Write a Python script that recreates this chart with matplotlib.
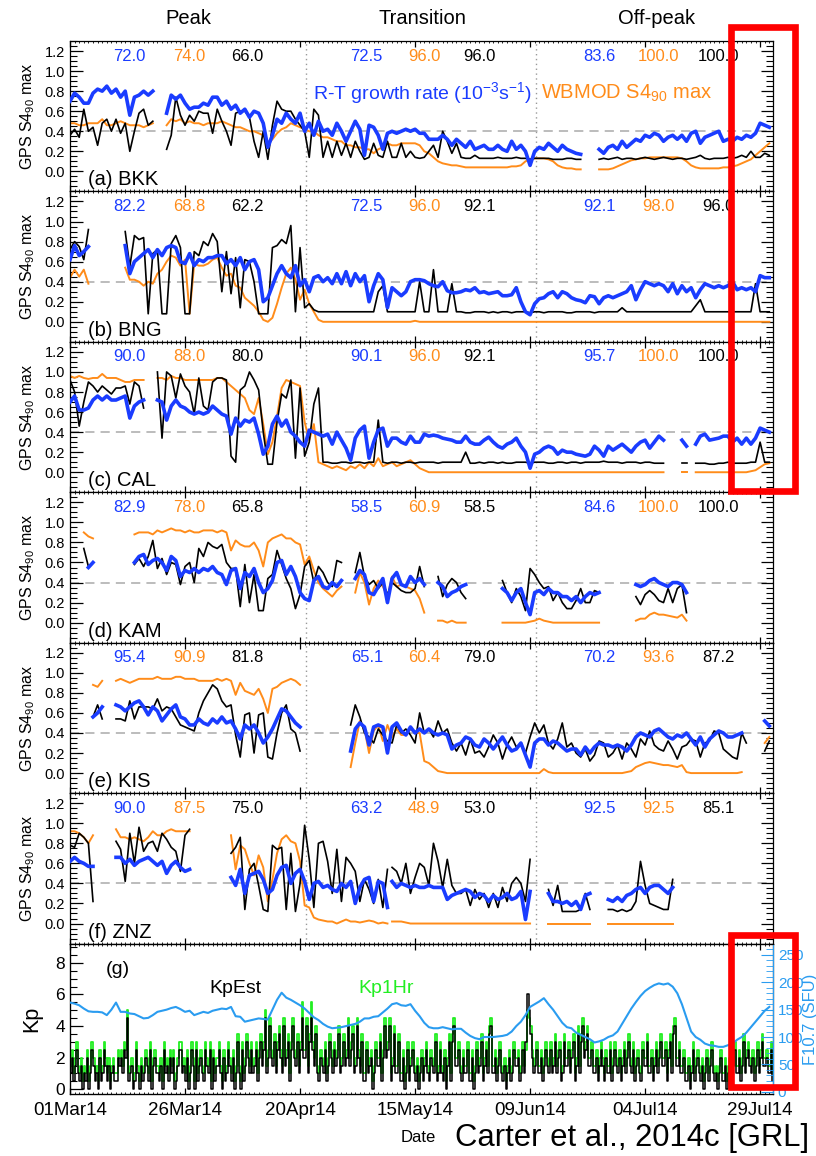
import numpy as np
import matplotlib
matplotlib.use("Agg")
import matplotlib.pyplot as plt
from matplotlib.patches import Rectangle
from matplotlib.ticker import MultipleLocator, FixedLocator

plt.rcParams['font.family'] = ['Liberation Sans', 'DejaVu Sans']
plt.rcParams['mathtext.fontset'] = 'custom'
plt.rcParams['mathtext.rm'] = 'Liberation Sans'
plt.rcParams['mathtext.it'] = 'Liberation Sans'

BLUE = '#1a3cff'
ORANGE = '#ff8c1a'
F107C = '#2a9cf0'
GREEN = '#22ee22'

# ---- data: days since 01Mar14, each series is a list of (start_day, daily values) ----
sections = ['Peak', 'Transition', 'Off-peak']
date_ticks = [0, 25, 50, 75, 100, 125, 150]
date_labels = ['01Mar14', '26Mar14', '20Apr14', '15May14', '09Jun14', '04Jul14', '29Jul14']
station_names = ['(a) BKK', '(b) BNG', '(c) CAL', '(d) KAM', '(e) KIS', '(f) ZNZ']

stats = [
    [72.0, 74.0, 66.0, 72.5, 96.0, 96.0, 83.6, 100.0, 100.0],
    [82.2, 68.8, 62.2, 72.5, 96.0, 92.1, 92.1, 98.0, 96.0],
    [90.0, 88.0, 80.0, 90.1, 96.0, 92.1, 95.7, 100.0, 100.0],
    [82.9, 78.0, 65.8, 58.5, 60.9, 58.5, 84.6, 100.0, 100.0],
    [95.4, 90.9, 81.8, 65.1, 60.4, 79.0, 70.2, 93.6, 87.2],
    [90.0, 87.5, 75.0, 63.2, 48.9, 53.0, 92.5, 92.5, 85.1],
]
stat_days = [13, 26, 38.5, 64.5, 77, 89, 115, 128, 141]

# (a) BKK
bkk_blue = [
    (0, [0.70,0.78,0.74,0.68,0.68,0.78,0.82,0.80,0.85,0.78,0.82,0.74,0.80,0.56,0.74,0.76,0.80,0.76,0.80]),
    (21, [0.58,0.76,0.72,0.76,0.68,0.62,0.64,0.64,0.68,0.66,
          0.74,0.74,0.66,0.70,0.62,0.66,0.58,0.62,0.54,0.60,
          0.58,0.48,0.24,0.36,0.52,0.48,0.58,0.52,0.48,0.58,
          0.40,0.48,0.36,0.50,0.40,0.42,0.36,0.48,0.40,0.30,
          0.40,0.50,0.42,0.16,0.46,0.44,0.36,0.22,0.38,0.40,
          0.38,0.40,0.42,0.40,0.42,0.38,0.38,0.32,0.32,0.32,
          0.36,0.32,0.26,0.32,0.28,0.24,0.30,0.22,0.24,0.26,
          0.22,0.22,0.26,0.22,0.20,0.30,0.22,0.26,0.20,0.06,
          0.20,0.24,0.22,0.28,0.24,0.20,0.26,0.22,0.20,0.18,0.17]),
    (115, [0.22,0.18,0.24,0.26,0.22,0.30,0.24,0.28,0.32,0.30,
           0.36,0.34,0.38,0.36,0.30,0.34,0.36,0.32,0.36,0.30,
           0.38,0.40,0.28,0.34,0.36,0.38,0.40,0.30,0.32,0.30,
           0.34,0.32,0.36,0.34,0.38,0.48,0.46,0.44]),
]
bkk_black = [
    (0, [0.36,0.42,0.34,0.62,0.40,0.44,0.26,0.48,0.52,0.40,0.52,0.38,0.48,0.20,0.40,0.58,0.62,0.46,0.50]),
    (21, [0.22,0.36,0.74,0.56,0.46,0.56,0.50,0.60,0.58,0.58,
          0.38,0.62,0.50,0.40,0.26,0.58,0.60,0.60,0.54,0.30,
          0.14,0.40,0.12,0.46,0.70,0.62,0.60,0.60,0.52,0.46,
          0.40,0.14,0.62,0.56,0.14,0.30,0.14,0.30,0.16,0.28,
          0.14,0.30,0.20,0.12,0.14,0.28,0.16,0.14,0.30,0.14,
          0.14,0.28,0.14,0.20,0.14,0.13,0.14,0.20,0.26,0.14,
          0.40,0.30,0.18,0.28,0.14,0.13,0.13,0.16,0.13,0.13,
          0.13,0.13,0.14,0.13,0.13,0.13,0.14,0.13,0.13,0.12,
          0.13,0.13,0.13,0.13,0.12,0.12,0.12,0.13,0.13,0.12,0.12]),
    (115, [0.12,0.13,0.12,0.13,0.14,0.12,0.13,0.13,0.12,0.13,
           0.14,0.13,0.12,0.13,0.14,0.13,0.12,0.13,0.13,0.12,
           0.13,0.14,0.16,0.13,0.12,0.13,0.13,0.13,0.14,0.13,
           0.14,0.16,0.14,0.20,0.14,0.14,0.18,0.16]),
]
bkk_orange = [
    (0, [0.48,0.48,0.46,0.46,0.48,0.48,0.48,0.52,0.46,0.46,0.48,0.50,0.48,0.46,0.46,0.46,0.44,0.46,0.48]),
    (21, [0.46,0.52,0.50,0.52,0.48,0.50,0.48,0.48,0.46,0.48,
          0.48,0.48,0.50,0.48,0.46,0.44,0.44,0.42,0.40,0.40,
          0.38,0.36,0.28,0.32,0.38,0.42,0.44,0.48,0.46,0.44,
          0.42,0.40,0.40,0.36,0.34,0.34,0.32,0.30,0.30,0.26,
          0.26,0.24,0.24,0.22,0.22,0.18,0.22,0.24,0.28,0.26,
          0.26,0.28,0.28,0.28,0.28,0.26,0.20,0.18,0.14,0.10,
          0.08,0.07,0.06,0.06,0.05,0.04,0.04,0.04,0.04,0.04,
          0.04,0.04,0.04,0.04,0.04,0.05,0.05,0.06,0.10,0.12,
          0.13,0.13,0.13,0.12,0.10,0.06,0.04,0.03,0.03,0.02,0.02]),
    (115, [0.02,0.02,0.02,0.03,0.05,0.07,0.09,0.11,0.12,0.13,
           0.13,0.14,0.14,0.14,0.14,0.14,0.14,0.14,0.13,0.10,
           0.06,0.04,0.03,0.03,0.03,0.03,0.03,0.04,0.04,0.05,
           0.06,0.08,0.10,0.12,0.16,0.20,0.24,0.28]),
]

# (b) BNG
bng_blue = [
    (0, [0.62,0.76,0.66,0.70,0.75]),
    (12, [0.76,0.48,0.60,0.64,0.68,0.72,0.64,0.72,0.66,0.74,
          0.76,0.74,0.60,0.58,0.68,0.56,0.62,0.60,0.64,0.64,
          0.66,0.66,0.58,0.62,0.56,0.64,0.52,0.60,0.62,0.52,
          0.20,0.24,0.36,0.48,0.56,0.48,0.44,0.56,0.36,0.42,
          0.30,0.44,0.46,0.40,0.44,0.38,0.48,0.38,0.50,0.36,
          0.48,0.40,0.46,0.20,0.36,0.48,0.42,0.14,0.34,0.30,
          0.26,0.30,0.40,0.42,0.42,0.41,0.38,0.36,0.35,0.40,
          0.31,0.29,0.29,0.30,0.32,0.31,0.34,0.29,0.30,0.28,
          0.29,0.30,0.26,0.26,0.27,0.34,0.20,0.10,0.07,0.18,
          0.23,0.24,0.28,0.30,0.24,0.30,0.28,0.24,0.22,0.21,
          0.19,0.26,0.25,0.18,0.24,0.26,0.24,0.26,0.28,0.30,
          0.36,0.22,0.32,0.40,0.38,0.36,0.38,0.36,0.30,0.38,
          0.28,0.36,0.30,0.34,0.24,0.32,0.38,0.36,0.34,0.36,
          0.34,0.36,0.40,0.32,0.34,0.32,0.34,0.30,0.46,0.44,0.44]),
]
bng_black = [
    (0, [0.72,0.80,0.75,0.62,0.92]),
    (12, [0.90,0.55,0.86,0.82,0.84,0.08,0.68,0.72,0.08,0.08,
          0.78,0.86,0.74,0.08,0.08,0.70,0.66,0.80,0.76,0.88,
          0.80,0.30,0.70,0.28,0.64,0.14,0.62,0.60,0.40,0.08,
          0.08,0.08,0.74,0.76,0.82,0.78,0.96,0.10,0.74,0.14,
          0.18,0.12,0.10,0.10,0.10,0.10,0.10,0.10,0.10,0.10,
          0.10,0.10,0.10,0.10,0.10,0.30,0.36,0.10,0.10,0.10,
          0.10,0.10,0.10,0.10,0.40,0.10,0.10,0.52,0.10,0.10,
          0.10,0.38,0.10,0.10,0.09,0.09,0.10,0.10,0.10,0.09,
          0.10,0.09,0.10,0.10,0.09,0.10,0.10,0.10,0.09,0.10,
          0.10,0.09,0.10,0.10,0.10,0.10,0.09,0.09,0.10,0.10,
          0.10,0.10,0.09,0.10,0.10,0.10,0.10,0.10,0.14,0.10,
          0.10,0.10,0.10,0.10,0.10,0.10,0.10,0.10,0.10,0.10,
          0.10,0.10,0.10,0.10,0.16,0.22,0.10,0.10,0.10,0.10,
          0.10,0.10,0.10,0.10,0.10,0.10,0.10,0.38,0.10,0.10,0.10]),
]
bng_orange = [
    (0, [0.44,0.52,0.45,0.52,0.38]),
    (12, [0.54,0.42,0.42,0.40,0.36,0.40,0.38,0.48,0.52,0.60,
          0.66,0.64,0.56,0.62,0.08,0.58,0.56,0.56,0.58,0.62,
          0.64,0.54,0.46,0.48,0.36,0.34,0.24,0.20,0.16,0.10,
          0.02,0.00,0.04,0.18,0.34,0.48,0.54,0.42,0.22,0.32,
          0.18,0.10,0.02,0,0,0,0,0,0,0,
          0,0,0,0,0,0,0,0,0,0,
          0,0,0,0.01,0,0,0,0,0,0,
          0,0,0,0,0,0,0,0,0,0,
          0,0,0,0,0,0,0,0,0,0,
          0,0,0,0,0,0,0,0,0,0,
          0,0,0,0,0,0,0,0,0,0,
          0,0,0,0,0,0,0,0,0,0,
          0,0,0,0,0,0,0,0,0,0,
          0,0,0,0,0,0,0,0,0,0,0]),
]

# (c) CAL
cal_blue = [
    (0, [0.70,0.76,0.62,0.62,0.64,0.72,0.76,0.72,0.76,0.72,0.72,0.74,0.76,0.54,0.66,0.70,0.72]),
    (19, [0.72,0.70,0.52,0.66,0.72,0.66,0.64,0.60,0.58,0.60,
          0.58,0.60,0.66,0.62,0.58,0.56,0.38,0.54,0.46,0.52,
          0.50,0.54,0.38,0.18,0.26,0.48,0.56,0.46,0.52,0.40,
          0.36,0.30,0.26,0.42,0.40,0.38,0.36,0.38,0.28,0.40,
          0.32,0.24,0.12,0.34,0.42,0.46,0.14,0.30,0.42,0.44,
          0.26,0.34,0.34,0.30,0.28,0.36,0.30,0.30,0.38,0.36,
          0.37,0.36,0.34,0.33,0.32,0.30,0.30,0.36,0.30,0.28,
          0.28,0.32,0.35,0.30,0.26,0.24,0.28,0.30,0.34,0.26,
          0.20,0.04,0.18,0.20,0.24,0.26,0.24,0.18,0.22,0.20,
          0.20,0.18,0.17,0.16,0.18,0.26,0.22,0.16,0.26,0.22,
          0.25,0.28,0.24,0.20,0.26,0.30,0.32,0.24,0.30,0.36,0.32]),
    (133, [0.32,0.26]),
    (136, [0.28,0.36,0.38,0.32,0.33,0.34,0.36,0.36,0.30,0.34,0.28,0.34,0.28,0.34,0.44,0.42,0.40]),
]
cal_black = [
    (0, [0.92,0.80,0.46,0.70,0.90,0.86,0.80,0.86,0.82,0.78,0.84,0.84,0.86,0.68,0.90,0.86,0.64]),
    (19, [1.00,0.34,1.00,0.96,0.74,0.98,0.86,0.80,0.58,0.94,
          0.66,0.62,0.90,0.94,0.94,0.92,0.16,0.10,0.82,0.86,
          1.00,0.92,0.82,0.40,0.08,0.08,0.50,0.78,0.74,0.92,
          0.14,0.84,0.16,0.30,0.68,0.84,0.10,0.10,0.09,0.09,
          0.10,0.10,0.09,0.10,0.10,0.09,0.10,0.10,0.52,0.10,
          0.09,0.10,0.10,0.09,0.10,0.10,0.09,0.10,0.10,0.10,
          0.10,0.09,0.10,0.10,0.10,0.10,0.10,0.20,0.09,0.09,
          0.10,0.09,0.10,0.10,0.09,0.10,0.09,0.09,0.10,0.10,
          0.10,0.09,0.10,0.10,0.10,0.09,0.09,0.10,0.10,0.09,
          0.10,0.10,0.09,0.10,0.10,0.10,0.10,0.11,0.10,0.10,
          0.10,0.09,0.10,0.10,0.10,0.09,0.10,0.10,0.09,0.09,0.09]),
    (133, [0.09,0.09]),
    (136, [0.09,0.09,0.09,0.08,0.08,0.09,0.09,0.10,0.09,0.09,0.09,0.09,0.10,0.10,0.30,0.10,0.10]),
]
cal_orange = [
    (0, [0.96,0.94,0.96,0.94,0.93,0.94,0.94,0.98,0.94,0.94,0.94,0.92,0.90,0.90,0.92,0.92,0.92]),
    (19, [0.94,0.94,0.92,0.96,0.94,0.94,0.92,0.92,0.92,0.92,
          0.92,0.92,0.92,0.94,0.94,0.90,0.86,0.82,0.78,0.74,
          0.62,0.58,0.74,0.48,0.18,0.30,0.56,0.84,0.92,0.90,
          0.88,0.86,0.50,0.32,0.48,0.10,0.08,0.06,0.04,0.06,
          0.04,0.02,0.06,0.04,0.08,0.04,0.10,0.06,0.14,0.06,
          0.08,0.10,0.06,0.08,0.10,0.12,0.08,0.04,0.02,0,
          0,0,0,0,0,0,0,0,0,0,
          0,0,0,0,0,0,0,0,0,0,
          0,0,0,0,0,0,0,0,0,0,
          0,0,0,0,0,0,0,0,0,0,
          0,0,0,0,0,0,0,0,0,0,0]),
    (133, [0.0,0.0]),
    (136, [0,0,0,0,0,0,0,0,0,0,0,0,0.01,0.02,0.05,0.08,0.09]),
]

# (d) KAM
kam_blue = [
    (4, [0.55,0.60]),
    (14, [0.60,0.66,0.68,0.58,0.62,0.64,0.60,0.52,0.66,0.62,
          0.46,0.52,0.50,0.54,0.50,0.54,0.52,0.56,0.50,0.48,
          0.38,0.52,0.54,0.34,0.50,0.46,0.54,0.40,0.30,0.34,
          0.42,0.60,0.62,0.48,0.56,0.46,0.30,0.24,0.22,0.42,
          0.46,0.36,0.34,0.40,0.36,0.42]),
    (62, [0.44,0.52,0.48,0.30,0.28,0.36,0.44,0.20,0.44,0.50,0.38,0.36,0.46,0.40,0.44,0.38]),
    (80, [0.40,0.36,0.26,0.30,0.32,0.36,0.38]),
    (94, [0.34,0.30,0.22,0.30,0.34,0.20,0.08,0.30,0.32,0.28,0.34,0.30,0.30,0.26,0.26,0.22,0.26,0.20,0.26,0.30,0.28,0.30]),
    (123, [0.38,0.36,0.38,0.42,0.44,0.40,0.38,0.36,0.40,0.40,0.38,0.30]),
]
kam_black = [
    (3, [0.74,0.56]),
    (14, [0.58,0.64,0.56,0.66,0.82,0.54,0.64,0.48,0.60,0.58,
          0.38,0.56,0.60,0.40,0.74,0.66,0.80,0.76,0.74,0.78,
          0.60,0.54,0.54,0.16,0.58,0.20,0.48,0.12,0.12,0.44,
          0.48,0.72,0.58,0.44,0.34,0.14,0.28,0.56,0.62,0.40,
          0.56,0.50,0.40,0.36,0.62,0.60]),
    (62, [0.50,0.70,0.46,0.38,0.42,0.34,0.40,0.28,0.40,0.36,0.32,0.30,0.30,0.34,0.56,0.36]),
    (80, [0.46,0.26,0.38,0.44,0.40,0.30,0.24]),
    (94, [0.42,0.30,0.20,0.34,0.26,0.12,0.54,0.48,0.40,0.34,0.36,0.22,0.30,0.20,0.14,0.14,0.22,0.34,0.20,0.20,0.32,0.30]),
    (123, [0.26,0.18,0.28,0.32,0.28,0.22,0.20,0.34,0.20,0.34,0.38,0.10]),
]
kam_orange = [
    (3, [0.90,0.86,0.84]),
    (14, [0.88,0.90,0.90,0.90,0.88,0.92,0.90,0.92,0.94,0.92,
          0.92,0.90,0.92,0.90,0.90,0.92,0.92,0.92,0.90,0.92,
          0.90,0.72,0.82,0.78,0.76,0.76,0.80,0.72,0.56,0.80,
          0.84,0.86,0.88,0.84,0.84,0.80,0.78,0.58,0.66,0.52,
          0.40,0.34,0.30,0.26,0.32,0.36]),
    (62, [0.30,0.50,0.40,0.18,0.34,0.42,0.36,0.26,0.46,0.36,0.38,0.36,0.34,0.32,0.24,0.10]),
    (80, [0.02,0.02,0.0,0.02,0.0,0.0,0.0]),
    (94, [0,0,0,0,0,0,0.01,0.02,0.04,0.02,0.01,0,0,0,0,0,0,0,0,0,0,0]),
    (123, [0.02,0.04,0.04,0.08,0.10,0.08,0.08,0.07,0.06,0.05,0.08,0.02]),
]

# (e) KIS
kis_blue = [
    (5, [0.56,0.60,0.66]),
    (10, [0.68,0.66,0.62,0.66,0.70,0.72,0.66,0.58,0.66,0.62,
          0.52,0.58,0.64,0.68,0.56,0.54,0.48,0.48,0.54,0.50,
          0.48,0.54,0.50,0.56,0.50,0.52,0.44,0.34,0.48,0.44,
          0.48,0.40,0.30,0.36,0.44,0.54,0.64,0.62,0.56,0.50,0.46]),
    (61, [0.22,0.44,0.50,0.46,0.28,0.46,0.48,0.46,0.20,0.46,
          0.50,0.42,0.38,0.46,0.40,0.44,0.40,0.44,0.40,0.38,
          0.40,0.38,0.24,0.28,0.30,0.36,0.34,0.28,0.26,0.34,
          0.30,0.24,0.30,0.36,0.28,0.22,0.24,0.30,0.18,0.06,
          0.30,0.34,0.34,0.28,0.32,0.30,0.26,0.22,0.24,0.24,
          0.18,0.26,0.20,0.26,0.30,0.28,0.28,0.26,0.28,0.26,
          0.22,0.28,0.36,0.40,0.38,0.36,0.42,0.44,0.40,0.36,
          0.34,0.38,0.36,0.40,0.34,0.28,0.36,0.26,0.34,0.38,
          0.42,0.40,0.36,0.36,0.38,0.40]),
    (151, [0.52,0.47]),
]
kis_black = [
    (5, [0.56,0.68,0.54]),
    (10, [0.54,0.54,0.52,0.72,0.54,0.66,0.66,0.66,0.64,0.74,
          0.62,0.66,0.64,0.56,0.48,0.46,0.44,0.42,0.60,0.72,
          0.80,0.88,0.84,0.72,0.66,0.68,0.38,0.16,0.58,0.60,
          0.20,0.58,0.60,0.16,0.14,0.40,0.60,0.68,0.44,0.40,0.22]),
    (61, [0.48,0.68,0.56,0.40,0.36,0.30,0.44,0.38,0.32,0.30,
          0.48,0.40,0.44,0.38,0.30,0.60,0.40,0.44,0.36,0.52,
          0.40,0.44,0.30,0.22,0.30,0.18,0.34,0.20,0.22,0.16,
          0.26,0.38,0.30,0.14,0.28,0.36,0.26,0.30,0.20,0.36,
          0.50,0.40,0.48,0.30,0.24,0.34,0.50,0.26,0.30,0.20,
          0.16,0.24,0.12,0.18,0.32,0.30,0.16,0.20,0.28,0.14,
          0.30,0.24,0.16,0.34,0.28,0.42,0.28,0.24,0.22,0.32,
          0.24,0.14,0.26,0.28,0.34,0.32,0.16,0.30,0.32,0.42,
          0.40,0.24,0.20,0.16,0.14,0.40,0.30]),
    (151, [0.22,0.32]),
]
kis_orange = [
    (5, [0.88,0.86,0.92]),
    (10, [0.92,0.94,0.92,0.90,0.92,0.94,0.94,0.94,0.94,0.96,
          0.94,0.94,0.94,0.96,0.96,0.94,0.94,0.94,0.92,0.92,
          0.92,0.92,0.94,0.92,0.94,0.92,0.78,0.90,0.82,0.80,
          0.78,0.84,0.74,0.60,0.84,0.86,0.90,0.92,0.94,0.92,0.88]),
    (61, [0.06,0.30,0.52,0.44,0.20,0.42,0.48,0.32,0.48,0.36,
          0.44,0.38,0.38,0.44,0.40,0.40,0.12,0.10,0.06,0.02,
          0.01,0,0,0,0,0,0,0,0,0,
          0,0,0,0,0,0,0,0,0,0,
          0,0,0.04,0.01,0,0,0,0,0,0,
          0,0,0,0,0,0,0,0,0,0,
          0.01,0.02,0.06,0.08,0.10,0.11,0.10,0.09,0.08,0.08,
          0.07,0.06,0.08,0.01,0,0,0,0,0,0,
          0,0,0,0,0,0.01]),
    (151, [0.30,0.36]),
]

# (f) ZNZ
znz_blue = [
    (0, [0.62,0.66,0.62,0.60,0.57,0.57]),
    (10, [0.66,0.66,0.60,0.64,0.58,0.62,0.64,0.66,0.62,0.58,0.62,0.50,0.58,0.62,0.56,0.52,0.54]),
    (35, [0.46,0.38,0.54,0.30,0.48,0.50,0.52,0.44,0.30,0.34,
          0.48,0.56,0.58,0.40,0.50,0.54,0.42,0.24,0.40,0.42,
          0.36,0.38,0.34,0.32,0.40,0.36,0.42,0.20,0.36,0.44,
          0.46,0.22,0.42,0.40,0.16]),
    (70, [0.42,0.36,0.40,0.38,0.36,0.38,0.36,0.36,0.38,0.36,
          0.36,0.36,0.24,0.28,0.30,0.32,0.34,0.32,0.26,0.30,
          0.28,0.22,0.28,0.24,0.26,0.30,0.24,0.26,0.32,0.04,0.32]),
    (104, [0.30,0.22,0.22,0.20,0.22,0.18,0.22,0.14,0.28,0.30]),
    (117, [0.24,0.22,0.26,0.22,0.28,0.30,0.34,0.36,0.30,0.36,0.38,0.38,0.34,0.30,0.36]),
]
znz_black = [
    (0, [0.78,0.76,0.90,0.86,0.80,0.22]),
    (10, [0.82,0.74,0.42,0.90,0.60,0.96,0.72,0.80,0.82,0.72,0.90,0.84,0.76,0.72,0.52,0.88,0.94]),
    (35, [0.70,0.76,0.86,0.14,0.54,0.60,0.38,0.14,0.12,0.78,
          0.74,0.76,0.14,0.70,0.12,0.40,0.98,0.64,0.16,0.80,
          0.82,0.62,0.30,0.74,0.22,0.66,0.60,0.52,0.22,0.44,
          0.34,0.20,0.44,0.16,0.54]),
    (70, [0.56,0.52,0.40,0.60,0.30,0.46,0.60,0.56,0.38,0.80,
          0.62,0.36,0.64,0.38,0.30,0.30,0.34,0.18,0.34,0.24,
          0.30,0.16,0.30,0.16,0.36,0.22,0.40,0.46,0.40,0.22,0.64]),
    (104, [0.34,0.18,0.38,0.12,0.12,0.12,0.12,0.14,0.30,0.14]),
    (117, [0.14,0.14,0.12,0.14,0.12,0.14,0.22,0.62,0.38,0.20,0.18,0.16,0.14,0.14,0.44]),
]
znz_orange = [
    (0, [0.92,0.92,0.90,0.86,0.80,0.88]),
    (10, [0.94,0.86,0.86,0.84,0.86,0.84,0.82,0.86,0.92,0.88,0.88,0.92,0.94,0.92,0.92,0.92,0.92]),
    (35, [0.88,0.54,0.78,0.74,0.60,0.48,0.68,0.56,0.22,0.44,
          0.70,0.84,0.88,0.82,0.80,0.62,0.18,0.16,0.06,0.04,
          0.03,0.02,0.02,0.0,0.02,0.04,0.02,0.02,0.01,0.02,
          0.03,0.02,0.0,0.01,0.0]),
    (70, [0.02,0.02,0.02,0.01,0,0,0,0,0,0,
          0,0,0,0,0,0,0,0,0,0,
          0,0,0,0,0,0,0,0,0,0,0]),
    (104, [0,0,0,0,0,0,0,0,0,0]),
    (117, [0,0,0,0,0,0,0,0,0,0,0,0,0,0,0]),
]

station_blue = [bkk_blue, bng_blue, cal_blue, kam_blue, kis_blue, znz_blue]
station_black = [bkk_black, bng_black, cal_black, kam_black, kis_black, znz_black]
station_orange = [bkk_orange, bng_orange, cal_orange, kam_orange, kis_orange, znz_orange]

# (g) Kp, 3 values per day, each character = 2*Kp in hex
kp_est = (
    "241 352 130 214 025 312 041 253 130 231 "
    "143 425 491 230 152 031 243 150 342 213 "
    "052 314 240 135 523 140 253 051 342 153 "
    "250 413 352 041 253 140 262 051 364 252 "
    "351 463 592 484 362 574 283 461 584 362 "
    "594 482 695 372 143 251 364 253 472 363 "
    "483 572 384 261 152 340 253 361 484 581 "
    "372 261 140 251 352 130 241 352 143 261 "
    "252 140 361 683 352 142 251 140 252 361 "
    "352 782 241 352 130 241 253 341 252 6ca "
    "742 352 241 353 252 362 451 263 352 461 "
    "372 684 573 352 241 353 142 251 353 241 "
    "352 463 251 342 153 362 241 352 463 351 "
    "462 783 352 241 130 251 342 130 241 352 "
    "120 241 130 231 352 241 362 453 241 352 "
    "463 342 251"
)
kp_1hr = (
    "352 463 241 325 136 423 152 364 241 342 "
    "254 536 5a2 341 263 142 354 261 453 324 "
    "163 425 351 246 634 251 364 162 453 264 "
    "361 524 463 152 364 251 373 162 475 363 "
    "462 574 6a3 595 473 685 394 572 695 473 "
    "6b5 593 7b6 483 254 362 475 364 583 474 "
    "594 683 495 372 263 451 364 472 595 692 "
    "483 372 251 362 463 241 352 463 254 372 "
    "363 251 472 794 463 253 362 251 363 472 "
    "463 893 352 463 241 352 364 452 363 5a9 "
    "853 463 352 464 363 473 562 374 463 572 "
    "483 795 684 463 352 464 253 362 464 352 "
    "463 574 362 453 264 473 352 463 574 462 "
    "573 894 463 352 241 362 453 241 352 463 "
    "231 352 241 342 463 352 473 564 352 463 "
    "574 453 362"
)
f107 = [163,161,158,152,147,146,146,145,140,150,
        163,146,146,143,142,138,134,135,140,146,
        148,150,153,155,151,146,148,140,143,146,
        144,148,150,152,151,155,138,137,128,130,
        132,134,133,132,150,168,181,172,168,163,
        158,152,144,136,131,124,119,116,117,118,
        120,122,124,128,134,134,137,138,145,152,
        160,162,158,157,160,148,138,126,118,116,
        116,118,116,114,115,115,108,102,98,96,
        100,100,100,101,102,104,110,120,128,140,
        155,160,165,171,160,150,138,126,118,116,
        108,104,100,96,90,92,95,100,103,110,
        124,138,152,164,175,184,190,195,198,196,
        198,192,180,160,135,110,100,95,88,85,
        84,82,82,85,88,95,100,108,118,128,
        138,148,155]


def draw(ax, segs, **kw):
    for start, vals in segs:
        x = start + np.arange(len(vals))
        ax.plot(x, vals, **kw)


def style_axis(ax):
    ax.tick_params(axis='both', which='both', direction='in', top=True, right=True)
    ax.tick_params(axis='y', which='major', length=9, width=0.9, labelsize=10.5)
    ax.tick_params(axis='y', which='minor', length=5, width=0.8)
    ax.tick_params(axis='x', which='major', length=4, width=0.9)
    ax.tick_params(axis='x', which='minor', length=1.6, width=0.6)
    ax.xaxis.set_major_locator(FixedLocator(date_ticks))
    ax.xaxis.set_minor_locator(MultipleLocator(1))
    for s in ax.spines.values():
        s.set_linewidth(0.9)


W, H = 816, 1156
fig = plt.figure(figsize=(W / 100, H / 100), dpi=100)
left, right, top, ph = 70, 773, 41, 150.43
XMAX = 152.8


def fx(px):
    return px / W


def fy(py):
    return 1 - py / H


axes = []
for i in range(7):
    ax = fig.add_axes([fx(left), fy(top + (i + 1) * ph), fx(right - left), ph / H])
    axes.append(ax)

for i in range(6):
    ax = axes[i]
    ax.set_xlim(0, XMAX)
    ax.set_ylim(-0.2, 1.3)
    ax.axhline(0.4, color='#aaaaaa', lw=1.1, dashes=(6, 4), zorder=1)
    for d in (51.3, 101.3):
        ax.axvline(d, color='#999999', lw=1.0, ls=(0, (1, 2.5)), zorder=1)
    draw(ax, station_orange[i], color=ORANGE, lw=1.4, zorder=2)
    draw(ax, station_black[i], color='black', lw=1.2, zorder=3)
    draw(ax, station_blue[i], color=BLUE, lw=2.6, zorder=4)
    style_axis(ax)
    ax.yaxis.set_major_locator(FixedLocator([0.0, 0.2, 0.4, 0.6, 0.8, 1.0, 1.2]))
    ax.yaxis.set_minor_locator(MultipleLocator(0.05))
    ax.yaxis.set_major_formatter(matplotlib.ticker.FormatStrFormatter('%.1f'))
    ax.set_xticklabels([])
    cols = [BLUE, ORANGE, 'black'] * 3
    for d, v, c in zip(stat_days, stats[i], cols):
        ax.text(d, 1.15, f'{v:.1f}', color=c, fontsize=12, ha='center', va='center', zorder=5)
    ax.text(0.026, 0.076, station_names[i], transform=ax.transAxes, fontsize=14.5,
            ha='left', va='center')
    yc = top + (i + 0.5) * ph
    fig.text(fx(28), fy(yc), 'GPS S4$_{90}$ max', rotation=90, fontsize=11.5,
             ha='center', va='center')

# legend texts in panel (a)
fig.text(fx(313), fy(93), 'R-T growth rate (10$^{-3}$s$^{-1}$)', color=BLUE,
         fontsize=14, ha='left', va='center')
fig.text(fx(541), fy(93), 'WBMOD S4$_{90}$ max', color=ORANGE,
         fontsize=14.5, ha='left', va='center')

# section titles
for name, px in zip(sections, [188, 422, 657]):
    fig.text(fx(px), fy(18), name, fontsize=14.5, ha='center', va='center')

# (g) Kp panel
axg = axes[6]
est = [int(c, 16) / 2 for c in kp_est if c != ' ']
one = [int(c, 16) / 2 for c in kp_1hr if c != ' ']
t_est = np.arange(len(est)) / 3
t_one = np.arange(len(one)) / 3
axg.step(t_one, one, where='post', color=GREEN, lw=1.3, zorder=2)
axg.step(t_est, est, where='post', color='black', lw=1.1, zorder=3)
axg.set_xlim(0, XMAX)
axg.set_ylim(-0.3, 9.22)
style_axis(axg)
axg.tick_params(axis='y', which='both', right=False, labelsize=12.5)
axg.yaxis.set_major_locator(FixedLocator([0, 2, 4, 6, 8]))
axg.yaxis.set_minor_locator(MultipleLocator(0.5))
axg.set_xticks(date_ticks)
axg.set_xticklabels(date_labels, fontsize=13.5)
axg.tick_params(axis='x', which='major', pad=6)
axg.text(10.4, 7.55, '(g)', fontsize=14, ha='center', va='center')
axg.text(35.9, 6.4, 'KpEst', fontsize=14, ha='center', va='center', color='black')
axg.text(68.7, 6.4, 'Kp1Hr', fontsize=14, ha='center', va='center', color=GREEN)
fig.text(fx(32), fy(top + 6.5 * ph), 'Kp', rotation=90, fontsize=15.5, ha='center', va='center')

axf = axg.twinx()
axf.plot(np.arange(len(f107)), f107, color=F107C, lw=1.5, zorder=4)
axf.set_xlim(0, XMAX)
axf.set_ylim(-4.2, 270.8)
axf.yaxis.set_major_locator(FixedLocator([0, 50, 100, 150, 200, 250]))
axf.yaxis.set_minor_locator(MultipleLocator(10))
axf.tick_params(axis='y', which='both', direction='in', colors=F107C, labelsize=11)
axf.tick_params(axis='y', which='major', length=9)
axf.tick_params(axis='y', which='minor', length=5)
axf.spines['right'].set_color(F107C)
fig.text(fx(810), fy(1019), 'F10.7 (SFU)', rotation=90, color=F107C, fontsize=12,
         ha='center', va='center')

# bottom captions
fig.text(fx(418), fy(1138), 'Date', fontsize=12, ha='center', va='center')
fig.text(fx(455), fy(1138), 'Carter et al., 2014c [GRL]', fontsize=22.3, ha='left', va='center')

# red highlight boxes
for y0, y1 in [(27, 490.5), (935, 1086.5)]:
    fig.add_artist(Rectangle((fx(731), fy(y1)), fx(794.5 - 731), (y1 - y0) / H,
                             transform=fig.transFigure, fill=False, edgecolor='#ff0000',
                             lw=4.8, zorder=20))

fig.savefig('out.png', dpi=100)
